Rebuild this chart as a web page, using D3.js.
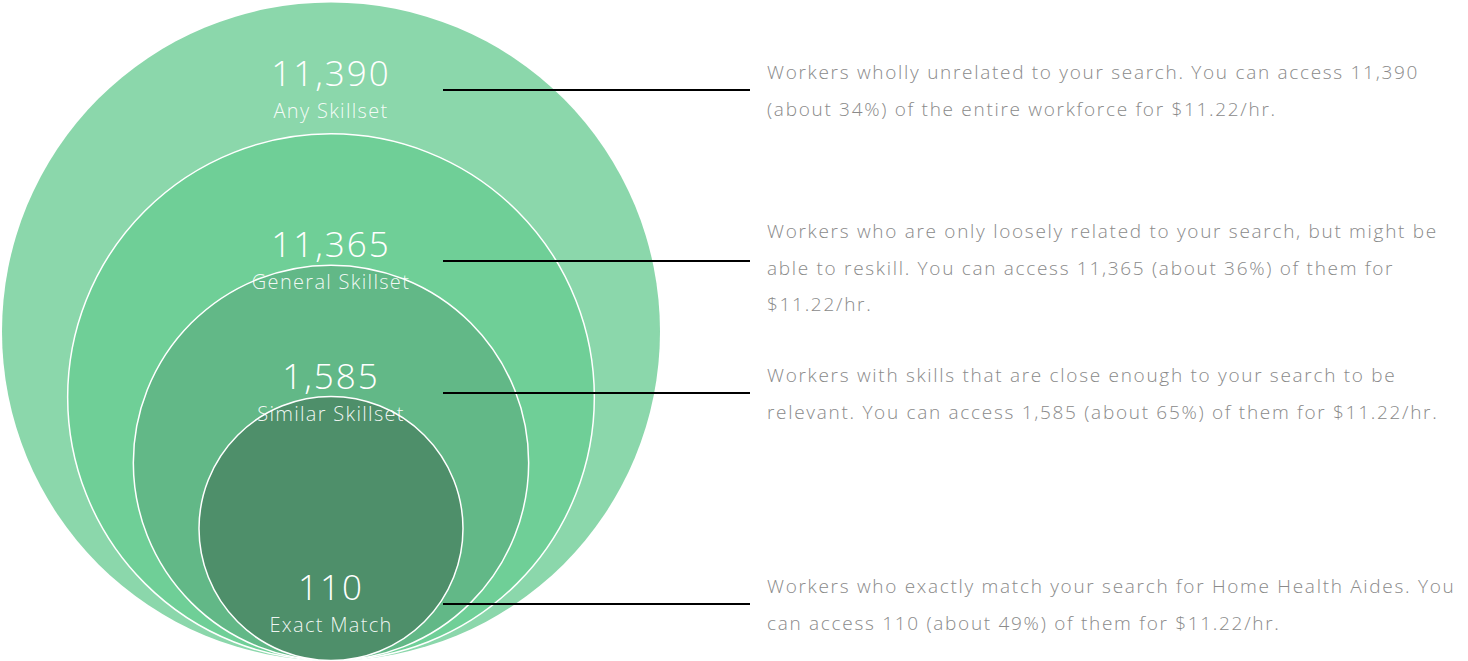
<!DOCTYPE html>
<html>
<head>
<meta charset="utf-8">
<script src="https://cdn.jsdelivr.net/npm/d3@7"></script>
<style>
  body { margin: 0; background: #fff; }
  svg { display: block; }
</style>
</head>
<body>
<svg></svg>
<script>
const levels = ["Any Skillset", "General Skillset", "Similar Skillset", "Exact Match"];
const counts = [11390, 11365, 1585, 110];
const shares = [34, 36, 65, 49];
const rate = "$11.22/hr.";
const descriptions = [
  ["Workers wholly unrelated to your search. You can access 11,390",
   "(about 34%) of the entire workforce for $11.22/hr."],
  ["Workers who are only loosely related to your search, but might be",
   "able to reskill. You can access 11,365 (about 36%) of them for",
   "$11.22/hr."],
  ["Workers with skills that are close enough to your search to be",
   "relevant. You can access 1,585 (about 65%) of them for $11.22/hr."],
  ["Workers who exactly match your search for Home Health Aides. You",
   "can access 110 (about 49%) of them for $11.22/hr."]
];

const width = 1468, height = 661;
const svg = d3.select("svg").attr("width", width).attr("height", height);

// circles share a common bottom point
const baseY = 660.5, cx = 331;
const radius = d3.scaleLinear().domain([0, levels.length - 1]).range([329, 132]);
const color = d3.scaleOrdinal().domain(levels).range(["#8bd7ab", "#6fcf97", "#62b887", "#4e8f6a"]);

// y of the label row for each ring (where leader line sits)
const rowY = [90, 261, 393, 604];

const g = svg.append("g");

g.selectAll("circle")
  .data(levels)
  .enter()
  .append("circle")
  .attr("cx", cx)
  .attr("cy", (d, i) => baseY - radius(i))
  .attr("r", (d, i) => radius(i))
  .attr("fill", d => color(d))
  .attr("stroke", (d, i) => i === 0 ? "none" : "#fff")
  .attr("stroke-width", 1.5);

const fmt = d3.format(",");
const labels = g.selectAll("g.label")
  .data(levels)
  .enter()
  .append("g")
  .attr("class", "label")
  .attr("transform", (d, i) => `translate(${cx},${rowY[i]})`);

labels.append("text")
  .attr("y", -4)
  .attr("text-anchor", "middle")
  .attr("fill", "#fff")
  .attr("font-family", "Open Sans")
  .attr("font-weight", 300)
  .attr("font-size", 35)
  .attr("letter-spacing", 2)
  .text((d, i) => fmt(counts[i]));

labels.append("text")
  .attr("y", 28)
  .attr("text-anchor", "middle")
  .attr("fill", "#fff")
  .attr("fill-opacity", 0.92)
  .attr("font-family", "Open Sans")
  .attr("font-weight", 300)
  .attr("font-size", 20)
  .attr("letter-spacing", 1.3)
  .text(d => d);

// leader lines
svg.selectAll("line.leader")
  .data(levels)
  .enter()
  .append("line")
  .attr("class", "leader")
  .attr("x1", 443)
  .attr("x2", 750)
  .attr("y1", (d, i) => rowY[i])
  .attr("y2", (d, i) => rowY[i])
  .attr("stroke", "#000")
  .attr("stroke-width", 2);

// descriptions
const lineH = 36.5;
const desc = svg.selectAll("text.desc")
  .data(descriptions)
  .enter()
  .append("text")
  .attr("class", "desc")
  .attr("x", 767)
  .attr("y", (d, i) => rowY[i] - 11 - (i === 1 ? 12 : 0))
  .attr("fill", "#8a8a8a")
  .attr("font-family", "Open Sans")
  .attr("font-weight", 300)
  .attr("font-size", 19)
  .attr("letter-spacing", 1.7);

desc.selectAll("tspan")
  .data(d => d)
  .enter()
  .append("tspan")
  .attr("x", 767)
  .attr("dy", (d, i) => i === 0 ? 0 : lineH)
  .text(d => d);
</script>
</body>
</html>
